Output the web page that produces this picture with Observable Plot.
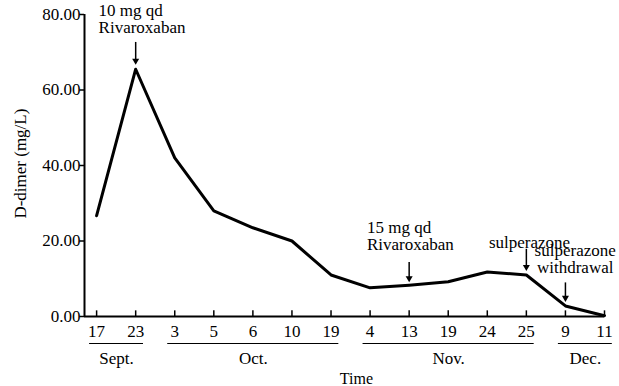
<!DOCTYPE html>
<html>
<head>
<meta charset="utf-8">
<script src="https://cdn.jsdelivr.net/npm/d3@7"></script>
<script src="https://cdn.jsdelivr.net/npm/@observablehq/plot@0.6"></script>
<style>
  body { margin: 0; background: #fff; font-family: "Liberation Serif", serif; }
  #preload { position: absolute; left: -9999px; top: 0; font-family: "Liberation Serif"; font-size: 17px; }
</style>
</head>
<body>
<div id="preload" aria-hidden="true">Rivaroxaban sulperazone withdrawal D-dimer (mg/L) Time Sept. Oct. Nov. Dec. 0123456789.</div>
<div id="chart"></div>
<script>
// ---- data ----
const dayLabels = ["17","23","3","5","6","10","19","4","13","19","24","25","9","11"];
const dimer = [26.7, 65.5, 42.0, 28.0, 23.5, 20.0, 11.0, 7.6, 8.3, 9.2, 11.8, 11.0, 2.8, 0.2];
const months = [
  {name: "Sept.", start: 0, end: 1},
  {name: "Oct.", start: 2, end: 6},
  {name: "Nov.", start: 7, end: 11},
  {name: "Dec.", start: 12, end: 13}
];
const yTicks = [0, 20, 40, 60, 80];
const notes = [
  {text: "10 mg qd\nRivaroxaban", tx: 0.05, ty: 78.9, anchor: "start", ax: 1, ay1: 72.6, ay2: 67.2},
  {text: "15 mg qd\nRivaroxaban", tx: 6.92, ty: 21.3, anchor: "start", ax: 8, ay1: 14.3, ay2: 9.6},
  {text: "sulperazone", tx: 11.08, ty: 19.6, anchor: "middle", ax: 11, ay1: 17.8, ay2: 12.6},
  {text: "sulperazone\nwithdrawal", tx: 12.25, ty: 15.2, anchor: "middle", ax: 12, ay1: 8.9, ay2: 4.4}
];

const FONT = "Liberation Serif";
const pts = dimer.map((v, i) => ({i, v}));
const idx = dayLabels.map((d, i) => i);
const x0 = -0.31;

const chart = Plot.plot({
  width: 619,
  height: 386,
  marginLeft: 84,
  marginRight: 15,
  marginTop: 14,
  marginBottom: 70,
  x: {domain: [x0, 13], axis: null},
  y: {domain: [0, 80], axis: null},
  marks: [
    // y axis
    Plot.ruleX([x0], {x: d => d, y1: 0, y2: 80, strokeWidth: 2, stroke: "#000"}),
    Plot.ruleY(yTicks, {y: d => d, x1: x0 - 0.12, x2: x0, stroke: "#000", strokeWidth: 1.5}),
    Plot.text(yTicks, {x: x0, y: d => d, text: d => d.toFixed(2), textAnchor: "end", dx: -4, fontSize: 17, fontFamily: FONT, fill: "#000"}),
    // x axis
    Plot.ruleY([0], {y: d => d, x1: x0, x2: 13, strokeWidth: 2, stroke: "#000"}),
    Plot.ruleX(idx, {x: d => d, y1: 0, y2: 1.5, stroke: "#000", strokeWidth: 1.5}),
    Plot.text(idx, {x: d => d, y: 0, text: d => dayLabels[d], dy: 15, fontSize: 17, fontFamily: FONT, fill: "#000"}),
    // month underlines & labels
    Plot.ruleY(months, {y: 0, x1: d => d.start - 0.18, x2: d => d.end + 0.2, dy: 27, stroke: "#000", strokeWidth: 1.2}),
    Plot.text(months, {x: d => (d.start + d.end) / 2 + 0.01, y: 0, text: "name", dy: 42, fontSize: 17, fontFamily: FONT, fill: "#000"}),
    // axis titles
    Plot.text(["Time"], {x: 6.65, y: 0, text: d => d, dy: 62, fontSize: 16, fontFamily: FONT, fill: "#000"}),
    Plot.text(["D-dimer (mg/L)"], {x: x0, y: 40.5, text: d => d, dx: -64, rotate: -90, fontSize: 17, fontFamily: FONT, fill: "#000"}),
    // data line
    Plot.line(pts, {x: "i", y: "v", stroke: "#000", strokeWidth: 3}),
    // annotations
    Plot.text(notes.filter(d => d.anchor === "start"), {x: "tx", y: "ty", text: "text", textAnchor: "start", lineAnchor: "middle", lineHeight: 1.0, fontSize: 17, fontFamily: FONT, fill: "#000"}),
    Plot.text(notes.filter(d => d.anchor === "middle"), {x: "tx", y: "ty", text: "text", textAnchor: "middle", lineAnchor: "middle", lineHeight: 1.0, fontSize: 17, fontFamily: FONT, fill: "#000"}),
    Plot.ruleX(notes, {x: "ax", y1: "ay1", y2: "ay2", stroke: "#000", strokeWidth: 1.5}),
    Plot.dot(notes, {x: "ax", y: "ay2", symbol: "triangle", rotate: 180, r: 2.6, fill: "#000", stroke: "none", dy: -2})
  ]
});
chart.setAttribute("font-family", FONT);
chart.style.overflow = "visible";
d3.select(chart).selectAll("text").style("font-family", FONT);
document.getElementById("chart").appendChild(chart);
</script>
</body>
</html>
